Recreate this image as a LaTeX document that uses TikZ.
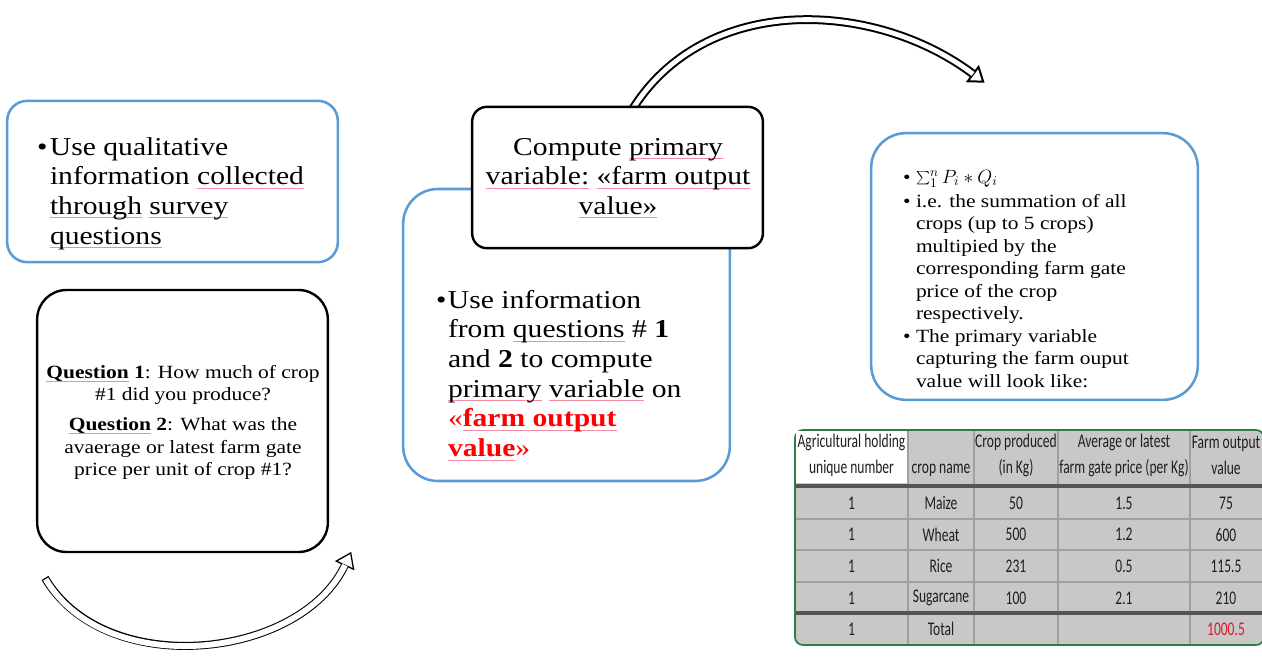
\documentclass[tikz,border=0pt]{standalone}
\usepackage{fontspec}
\setmainfont{Liberation Serif}[FakeStretch=1.15]
\newfontfamily\tabfont{Carlito}[FakeStretch=0.7]
\usetikzlibrary{arrows.meta}

\definecolor{boxblue}{RGB}{91,155,213}
\definecolor{tablegray}{RGB}{200,200,200}
\definecolor{gridgray}{RGB}{160,160,160}
\definecolor{rulegray}{RGB}{85,85,85}
\definecolor{framegreen}{RGB}{46,125,70}
\definecolor{spellpink}{RGB}{242,140,160}
\definecolor{totalred}{RGB}{215,30,40}

% faint underline under flagged words
\newsavebox\spellbox
\newcommand\spell[1]{\sbox\spellbox{#1}\rlap{\textcolor{spellpink}{\rule[-2.6pt]{\wd\spellbox}{0.4pt}}}\usebox\spellbox}
\newcommand\bul[1]{\makebox[#1][l]{•}}
\newcommand\bigtext{\fontsize{19.3}{22.3}\selectfont}
\newcommand\smalltext{\fontsize{14}{16.9}\selectfont}

\tikzset{every picture/.style={line width=0.75pt}}
\tikzset{
  bluebox/.style={draw=boxblue, line width=1.9pt, fill=white, inner sep=0pt, outer sep=0pt},
  blackbox/.style={draw=black, line width=1.8pt, fill=white, inner sep=0pt, outer sep=0pt},
  txt/.style={inner sep=0pt, outer sep=0pt},
  cell/.style={inner sep=0pt, font=\tabfont\fontsize{14.5}{19.5}\selectfont, text=black!88, align=center},
}

\begin{document}
\begin{tikzpicture}[x=0.75pt,y=0.75pt,yscale=-1,xscale=1]
\useasboundingbox (0,0) rectangle (1262,657);

%Shape: Rounded Rect [id:qualbox]
\node[bluebox, rounded corners=15pt, minimum width=248pt, minimum height=121pt] (qualbox) at (172.5,181.5) {};
% Text Node
\node[txt, anchor=base west, font=\bigtext] (qualtxt) at (37,155) {\bul{9.75pt}\begin{tabular}[t]{@{}l@{}}Use qualitative\\information \spell{collected}\\\spell{through} \spell{survey}\\\spell{questions}\end{tabular}};

%Shape: Rounded Rect [id:questbox]
\node[blackbox, rounded corners=22pt, minimum width=218pt, minimum height=196.5pt] (questbox) at (182.5,421) {};
% Text Node
\node[txt, anchor=base, font=\smalltext] (questtxt) at (183,378) {\begin{tabular}[t]{@{}c@{}}\spell{\textbf{Question}} \textbf{1}: How much of crop\\\#1 did you produce?\\[5.6pt]\spell{\textbf{Question}} \textbf{2}: What was the\\avaerage or latest farm gate\\price per unit of crop \#1?\end{tabular}};

%Curved hollow arrow, bottom
\coordinate (botstart) at (45,578);
\coordinate (botend) at (345,565);
\coordinate (bottip) at (351.2,551.9);
\draw[line width=6pt] (botstart) .. controls (105,680) and (300,660) .. (botend);
\draw[line width=1pt, -{Triangle[length=11.5pt,width=16pt,fill=white]}] (botend) -- (bottip);
\draw[white, line width=4.4pt, shorten <=1pt] (botstart) .. controls (105,680) and (300,660) .. (botend);

%Shape: Rounded Rect [id:infobox]
\node[bluebox, rounded corners=26pt, minimum width=245pt, minimum height=219pt] (infobox) at (566.5,335) {};
% Text Node
\node[txt, anchor=base west, font=\bigtext] (infotxt) at (436,308) {\bul{9pt}\begin{tabular}[t]{@{}l@{}}Use information\\from \spell{questions} \# \textbf{1}\\and \textbf{2} to compute\\\spell{primary} \spell{variable} on\\\textcolor{red}{«\spell{\textbf{farm output}}}\\\textcolor{red}{\spell{\textbf{value}}»}\end{tabular}};

%Curved hollow arrow, top
\coordinate (topstart) at (632,110);
\coordinate (topend) at (973,74);
\coordinate (toptip) at (984.6,82.7);
\draw[line width=6.6pt] (topstart) .. controls (705,-8) and (875,0) .. (topend);
\draw[line width=1.5pt, -{Triangle[length=11.5pt,width=16pt,fill=white]}] (topend) -- (toptip);
\draw[white, line width=3.6pt] (topstart) .. controls (705,-8) and (875,0) .. (topend);

%Shape: Rounded Rect [id:computebox]
\node[blackbox, rounded corners=11pt, minimum width=218pt, minimum height=106pt] (computebox) at (617.5,177.5) {};
% Text Node
\node[txt, anchor=base, font=\bigtext] (computetxt) at (618,155) {\begin{tabular}[t]{@{}c@{}}Compute \spell{primary}\\\spell{variable:} \spell{«farm output}\\\spell{value»}\end{tabular}};

%Shape: Rounded Rect [id:sumbox]
\node[bluebox, rounded corners=26pt, minimum width=245pt, minimum height=200pt] (sumbox) at (1034.5,266.5) {};
% Text Node
\node[txt, anchor=base west, font=\smalltext] (sumtxt) at (903,183) {\begin{tabular}[t]{@{}l@{}l@{}}
\bul{9.75pt}&$\sum_{1}^{n}P_i*Q_i$\\[1.1pt]
\bul{9.75pt}&i.e. the summation of all\\
&crops (up to 5 crops)\\
&multipied by the\\
&corresponding farm gate\\
&price of the crop\\
&respectively.\\
\bul{9.75pt}&The primary variable\\
&capturing the farm ouput\\
&value will look like:\end{tabular}};

%Table: farm output value
\draw[framegreen, line width=1.3pt, fill=tablegray, rounded corners=6pt] (795,430) rectangle (1264,645);
\fill[white] (796,431) rectangle (908,483);
\foreach \x in {908,974,1058,1190}
  \draw[gridgray, line width=0.8pt] (\x,431) -- (\x,644);
\foreach \y in {519,550,582}
  \draw[gridgray, line width=0.8pt] (796,\y) -- (1262,\y);
\draw[rulegray, line width=3pt] (796,486) -- (1262,486);
\draw[rulegray, line width=3pt] (796,613) -- (1262,613);

% Header cells
\node[cell] (hid) at (851.5,455) {Agricultural holding\\unique number};
\node[cell] (hcrop) at (941,470) {crop name};
\node[cell] (hqty) at (1016,455) {Crop produced\\(in Kg)};
\node[cell] (hprice) at (1124,455) {Average or latest\\farm gate price (per Kg)};
\node[cell] (hval) at (1226,455) {Farm output\\value};

% Body rows
\foreach \crop/\qty/\price/\val [count=\i] in {Maize/50/1.5/75,Wheat/500/1.2/600,Rice/231/0.5/115.5,Sugarcane/100/2.1/210}{
  \pgfmathsetmacro\yy{503+31.7*(\i-1)}
  \node[cell] (id\i) at (851.5,\yy) {1};
  \node[cell] (crop\i) at (941,\yy) {\crop};
  \node[cell] (qty\i) at (1016,\yy) {\qty};
  \node[cell] (price\i) at (1124,\yy) {\price};
  \node[cell] (val\i) at (1226,\yy) {\val};
}

% Total row
\node[cell] (idtot) at (851.5,629) {1};
\node[cell] (croptot) at (941,629) {Total};
\node[cell, text=totalred] (valtot) at (1226,629) {1000.5};

\end{tikzpicture}
\end{document}
